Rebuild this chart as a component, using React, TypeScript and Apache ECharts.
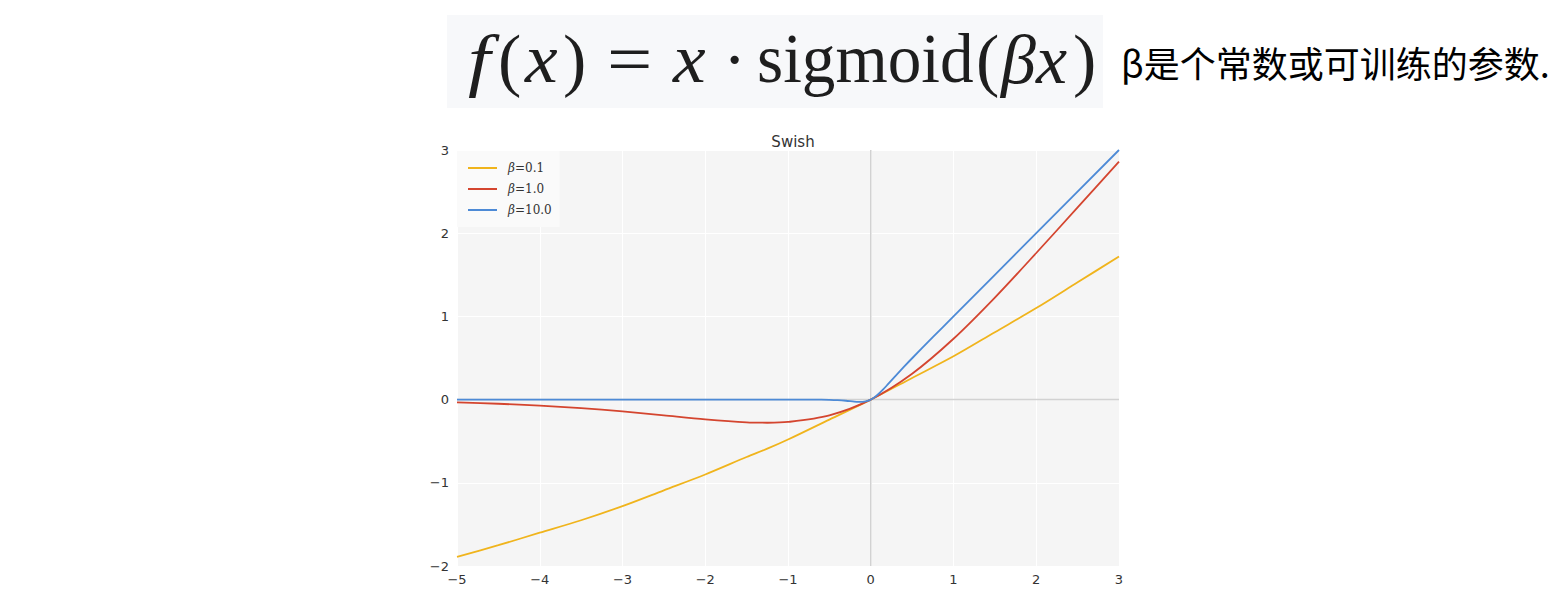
import React, { useEffect, useRef } from "react";
import * as echarts from "echarts";

const TITLE = "Swish";
const FORMULA_NOTE = "β是个常数或可训练的参数.";
const SERIES_NAMES = ["β=0.1", "β=1.0", "β=10.0"];
const SERIES_COLORS = ["#f0b41c", "#d4452f", "#4d8ad6"];

const xCoarse = [-5, -4.5, -4, -3.5, -3, -2.5, -2, -1.5, -1.25, -1, -0.5, 0, 0.5, 1, 1.5, 2, 2.5, 3];
const yBeta01 = [-1.89, -1.75, -1.6, -1.45, -1.28, -1.09, -0.9, -0.69, -0.59, -0.48, -0.24, 0, 0.26, 0.52, 0.81, 1.1, 1.41, 1.72];
const yBeta1 = [-0.034, -0.05, -0.072, -0.103, -0.142, -0.19, -0.238, -0.274, -0.278, -0.269, -0.189, 0, 0.311, 0.731, 1.226, 1.762, 2.31, 2.86];

const xFine = [-5, -4, -3, -2, -1, -0.6, -0.5, -0.4, -0.3, -0.2, -0.15, -0.1, -0.05, 0, 0.05, 0.1, 0.15, 0.2, 0.3, 0.4, 0.5, 0.75, 1, 2, 3];
const yBeta10 = [0, 0, 0, 0, 0, -0.001, -0.003, -0.007, -0.014, -0.024, -0.027, -0.027, -0.019, 0, 0.031, 0.073, 0.122, 0.176, 0.286, 0.393, 0.497, 0.75, 1.0, 2.0, 3.0];

const X_MIN = -5, X_MAX = 3, Y_MIN = -2, Y_MAX = 3;

const zip = (xs: number[], ys: number[]) => xs.map((x, i) => [x, ys[i]]);
const minus = (v: number) => String(v).replace("-", "\u2212");

const FF = "Liberation Serif";
const FS = 70;
const FY = 59;
const formulaPiece = (x: number, text: string, italic: boolean, scaleX = 1) => ({
  type: "text",
  x,
  y: FY,
  scaleX,
  z: 1,
  style: {
    text,
    fontFamily: FF,
    fontStyle: italic ? "italic" : "normal",
    fontSize: FS,
    fill: "#1e1e1e",
    verticalAlign: "middle",
  },
});

export default function App() {
  const ref = useRef<HTMLDivElement>(null);
  useEffect(() => {
    if (!ref.current) return;
    const chart = echarts.init(ref.current, undefined, { renderer: "svg" });
    const lineSeries = (name: string, color: string, data: number[][]) => ({
      name,
      type: "line",
      data,
      showSymbol: false,
      symbol: "none",
      smooth: 0.3,
      z: 3,
      lineStyle: { color, width: 1.8 },
      itemStyle: { color },
    });
    const refLine = (data: number[][]) => ({
      type: "line",
      data,
      showSymbol: false,
      symbol: "none",
      silent: true,
      z: 1,
      lineStyle: { color: "#d2d2d2", width: 1.5 },
      itemStyle: { color: "#d2d2d2" },
    });
    chart.setOption({
      animation: false,
      backgroundColor: "#ffffff",
      title: {
        text: TITLE,
        left: 788,
        textAlign: "center",
        top: 129,
        textStyle: { fontFamily: "DejaVu Sans", fontSize: 15, fontWeight: "normal", color: "#333" },
      },
      legend: {
        data: SERIES_NAMES,
        orient: "vertical",
        left: 457,
        top: 151,
        padding: [10, 8, 10, 11],
        itemGap: 7,
        itemWidth: 29,
        itemHeight: 2,
        icon: "rect",
        backgroundColor: "#fafafa",
        formatter: (name: string) => `{i|β}{r|${name.slice(1)}}`,
        textStyle: {
          color: "#333",
          padding: [0, 0, 0, 6],
          lineHeight: 14,
          rich: {
            i: { fontFamily: "DejaVu Serif", fontStyle: "italic", fontSize: 12, color: "#333", lineHeight: 14 },
            r: { fontFamily: "DejaVu Serif", fontSize: 12, color: "#333", lineHeight: 14 },
          },
        },
      },
      graphic: [
        { type: "rect", shape: { x: 447, y: 15, width: 656, height: 93 }, style: { fill: "#f7f8fa" }, z: 0 },
        formulaPiece(468, "f", true, 1.15),
        formulaPiece(498, "(", false),
        formulaPiece(525, "x", true, 1.05),
        formulaPiece(563, ")", false),
        formulaPiece(607, "=", false, 1.15),
        formulaPiece(673, "x", true, 1.05),
        formulaPiece(723, "·", false),
        formulaPiece(757, "sigmoid", false, 0.96),
        formulaPiece(976, "(", false),
        formulaPiece(1001, "β", true),
        formulaPiece(1036, "x", true, 1.0),
        formulaPiece(1073, ")", false),
        {
          type: "text",
          x: 1121,
          y: 62,
          style: {
            text: FORMULA_NOTE,
            fontFamily: "Noto Sans CJK SC",
            fontSize: 36,
            fill: "#000",
            verticalAlign: "middle",
          },
        },
      ],
      grid: {
        left: 457,
        right: 446,
        top: 150,
        bottom: 39,
        show: true,
        backgroundColor: "#f5f5f5",
        borderWidth: 0,
      },
      xAxis: {
        type: "value",
        min: X_MIN,
        max: X_MAX,
        interval: 1,
        axisLine: { show: false },
        axisTick: { show: false },
        axisLabel: { formatter: minus, fontFamily: "DejaVu Sans", fontSize: 13, color: "#333", margin: 7 },
        splitLine: { show: true, lineStyle: { color: "#ffffff", width: 1 } },
      },
      yAxis: {
        type: "value",
        min: Y_MIN,
        max: Y_MAX,
        interval: 1,
        axisLine: { show: false },
        axisTick: { show: false },
        axisLabel: { formatter: minus, fontFamily: "DejaVu Sans", fontSize: 13, color: "#333", margin: 8 },
        splitLine: { show: true, lineStyle: { color: "#ffffff", width: 1 } },
      },
      series: [
        refLine([[0, Y_MIN], [0, Y_MAX]]),
        refLine([[X_MIN, 0], [X_MAX, 0]]),
        lineSeries(SERIES_NAMES[0], SERIES_COLORS[0], zip(xCoarse, yBeta01)),
        lineSeries(SERIES_NAMES[1], SERIES_COLORS[1], zip(xCoarse, yBeta1)),
        lineSeries(SERIES_NAMES[2], SERIES_COLORS[2], zip(xFine, yBeta10)),
      ],
    });
    return () => chart.dispose();
  }, []);
  return <div ref={ref} style={{ position: "fixed", left: 0, top: 0, width: 1565, height: 605 }} />;
}
